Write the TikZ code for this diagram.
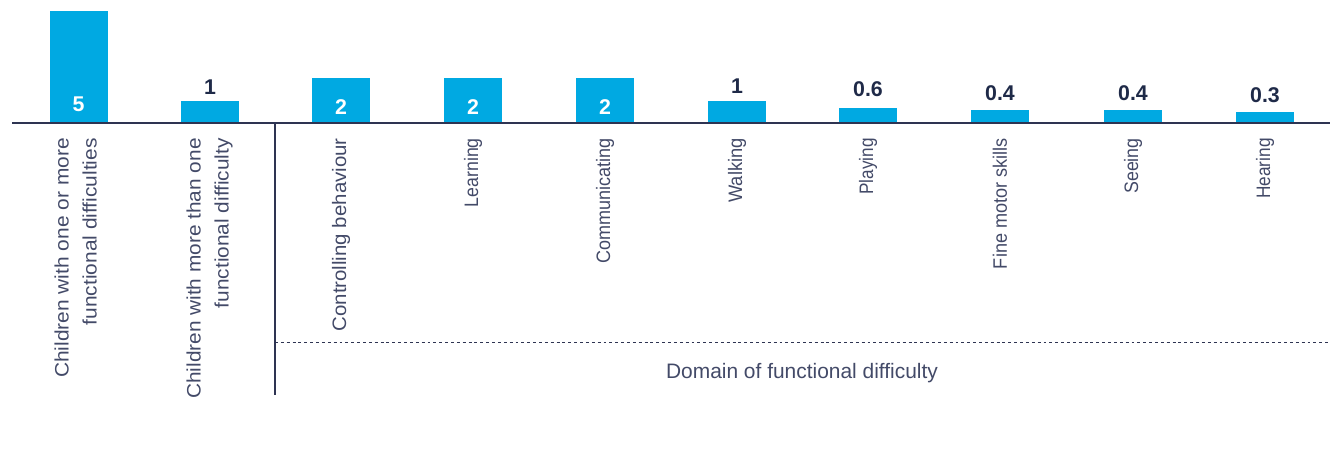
\documentclass[tikz,border=0pt]{standalone}
\usepackage{fontspec}
\usepackage{graphicx}
\setmainfont{Liberation Sans}
\definecolor{barblue}{HTML}{00A9E2}
\definecolor{txt}{HTML}{434A68}
\definecolor{val}{HTML}{1F2A48}
\definecolor{axis}{HTML}{2E3452}
\newcommand\stretchlabel[2]{\scalebox{#1}[1]{#2}}
\newcommand\twolines[2]{\begin{tabular}{@{}r@{}}#1\\#2\end{tabular}}
\begin{document}
\begin{tikzpicture}[x=0.75pt,y=-0.75pt,
  bar/.style={fill=barblue,draw=none},
  catlabel/.style={rotate=90,anchor=east,align=right,inner sep=0pt,text=txt,
    font=\fontsize{14.6pt}{21pt}\selectfont},
  valin/.style={text=white,inner sep=0pt,font=\fontsize{16pt}{18pt}\selectfont\bfseries},
  valout/.style={text=val,inner sep=0pt,font=\fontsize{16pt}{18pt}\selectfont\bfseries},
  axisline/.style={draw=axis,line width=1.1pt},
  sepline/.style={draw=axis,line width=0.8pt},
  dotline/.style={draw=axis,line width=0.7pt,dash pattern=on 2.2pt off 2.2pt}]
\useasboundingbox (0,0) rectangle (1332,471);
% bars
\foreach \cx/\top [count=\i] in {78.5/11,210/101,341/78,473/78,605/78,737/101,868/108,1000/110,1133/110,1265/112}{
  \fill[bar] (\cx-29,\top) rectangle (\cx+29,123);
}
% axis
\coordinate (axL) at (12,123);
\coordinate (axR) at (1330,123);
\draw[axisline] (axL) -- (axR);
\coordinate (sepT) at (275,123);
\coordinate (sepB) at (275,395);
\draw[sepline] (sepT) -- (sepB);
\coordinate (dotL) at (275,342);
\coordinate (dotR) at (1330,342);
\draw[dotline] (dotL) -- (dotR);
% values
\node[valin] (v1) at (78.5,104) {5};
\node[valout] (v2) at (210,87) {1};
\node[valin] (v3) at (341,107) {2};
\node[valin] (v4) at (473,107) {2};
\node[valin] (v5) at (605,107) {2};
\node[valout] (v6) at (737,86) {1};
\node[valout] (v7) at (868,89) {0.6};
\node[valout] (v8) at (1000,93) {0.4};
\node[valout] (v9) at (1133,93) {0.4};
\node[valout] (v10) at (1265,95) {0.3};
% category labels
\node[catlabel] (c1) at (77,138) {\stretchlabel{1.075}{\twolines{Children with one or more}{functional difficulties}}};
\node[catlabel] (c2) at (209,138) {\stretchlabel{1.07}{\twolines{Children with more than one}{functional difficulty}}};
\node[catlabel] (c3) at (341,138) {\stretchlabel{1.05}{Controlling behaviour}};
\node[catlabel] (c4) at (473,138) {\stretchlabel{0.91}{Learning}};
\node[catlabel] (c5) at (605,138) {\stretchlabel{0.925}{Communicating}};
\node[catlabel] (c6) at (737,138) {\stretchlabel{0.94}{Walking}};
\node[catlabel] (c7) at (868,138) {\stretchlabel{0.88}{Playing}};
\node[catlabel] (c8) at (1000,138) {\stretchlabel{0.93}{Fine motor skills}};
\node[catlabel] (c9) at (1133,138) {\stretchlabel{0.915}{Seeing}};
\node[catlabel] (c10) at (1265,138) {\stretchlabel{0.885}{Hearing}};
\node[text=txt,inner sep=0pt,font=\fontsize{15.7pt}{18pt}\selectfont] (dom) at (802,373) {Domain of functional difficulty};
\end{tikzpicture}
\end{document}
